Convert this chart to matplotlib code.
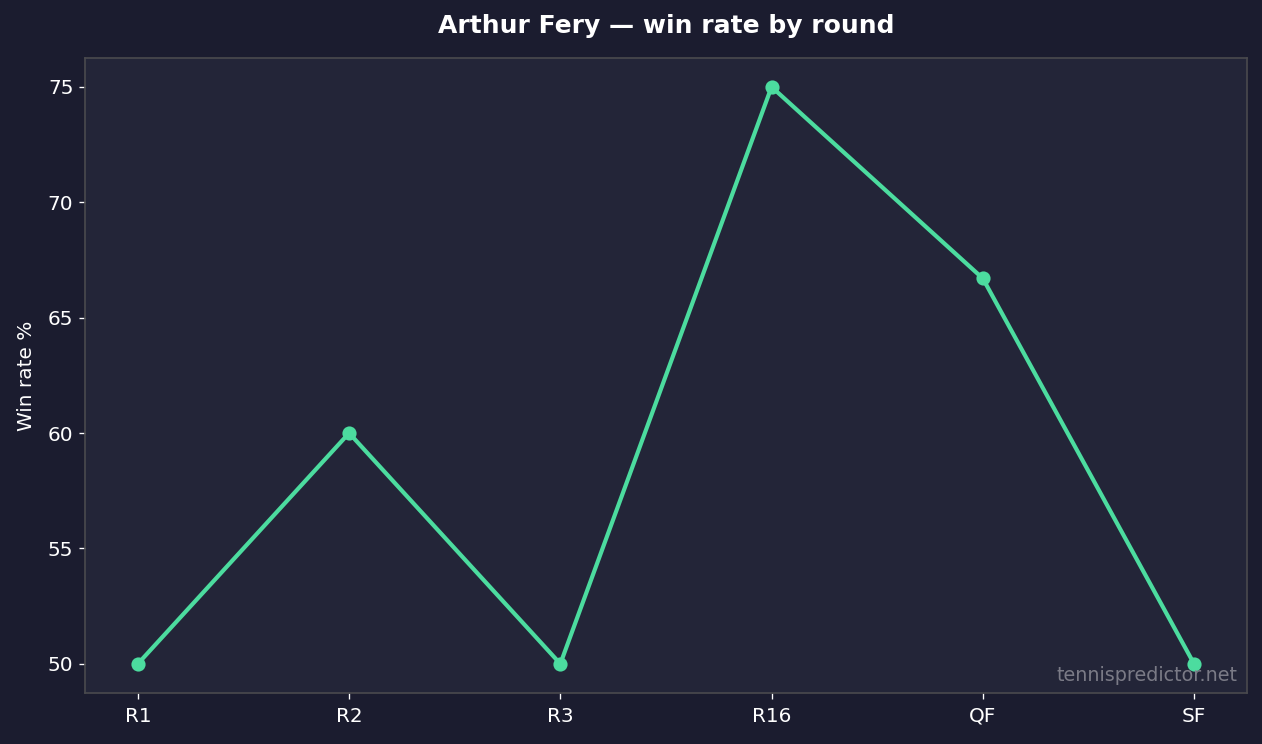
import matplotlib
matplotlib.use("Agg")
import matplotlib.pyplot as plt

rounds = ["R1", "R2", "R3", "R16", "QF", "SF"]
win_rate = [50.0, 60.0, 50.0, 75.0, 66.7, 50.0]

BG = "#1b1c2f"
AX_BG = "#232538"
LINE = "#4cdc9f"

fig, ax = plt.subplots(figsize=(1262 / 120, 744 / 120), dpi=120)
fig.patch.set_facecolor(BG)
ax.set_facecolor(AX_BG)

ax.plot(range(len(rounds)), win_rate, color=LINE, linewidth=2.5, marker="o", markersize=7.5)
ax.set_xticks(range(len(rounds)))
ax.set_xticklabels(rounds)

ax.set_title("Arthur Fery — win rate by round", color="white", fontsize=15,
             fontweight="bold", pad=15)
ax.set_ylabel("Win rate %", color="white", fontsize=12, labelpad=7)
ax.tick_params(colors="white", labelsize=12)
ax.tick_params(axis="x", pad=5)
for s in ax.spines.values():
    s.set_color("#4a4a4e")
    s.set_linewidth(1.0)

ax.text(0.992, 0.012, "tennispredictor.net", transform=ax.transAxes,
        ha="right", va="bottom", color="#8a8a94", fontsize=11.5, alpha=0.85)

fig.subplots_adjust(left=0.0674, right=0.988, top=0.922, bottom=0.069)
fig.savefig("out.png", dpi=120, facecolor=BG)
